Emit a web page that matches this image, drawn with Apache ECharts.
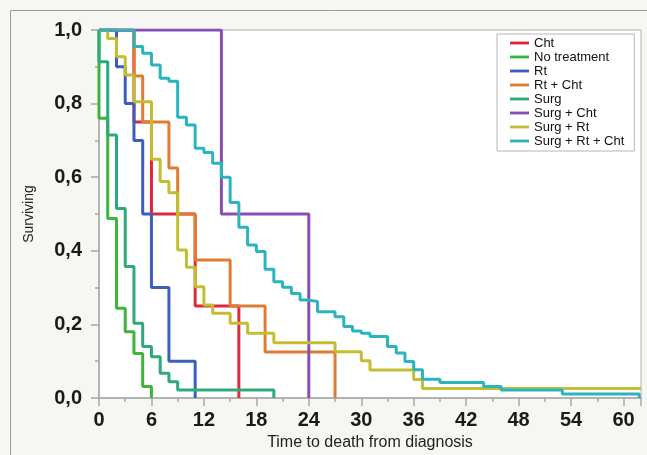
<!DOCTYPE html>
<html>
<head>
<meta charset="utf-8">
<script src="https://cdn.jsdelivr.net/npm/echarts@6/dist/echarts.min.js"></script>
<style>
html,body{margin:0;padding:0;background:#f6f6f3;}
#chart{width:647px;height:455px;}
</style>
</head>
<body>
<div id="chart"></div>
<script>
// Series names (legend order)
const seriesNames = ['Cht', 'No treatment', 'Rt', 'Rt + Cht', 'Surg', 'Surg + Cht', 'Surg + Rt', 'Surg + Rt + Cht'];
const seriesColors = ['#e0283c', '#3db53b', '#3a5fbf', '#de7c34', '#2ea97a', '#8a4db6', '#c3bd33', '#2bb4be'];

// Kaplan-Meier steps: time of event (months) and survival after it
const chtT = [0, 4, 6, 11, 16];
const chtS = [1, 0.75, 0.5, 0.25, 0];

const noTreatT = [0, 0, 1, 2, 3, 4, 5, 6];
const noTreatS = [1, 0.76, 0.488, 0.244, 0.18, 0.121, 0.031, 0];

const rtT = [0, 2, 3, 4, 5, 6, 8, 11];
const rtS = [1, 0.9, 0.8, 0.7, 0.5, 0.3, 0.1, 0];

const rtChtT = [0, 4, 5, 8, 9, 11, 15, 19, 27];
const rtChtS = [1, 0.875, 0.75, 0.625, 0.5, 0.375, 0.25, 0.125, 0];

const surgT = [0, 0, 1, 2, 3, 4, 5, 6, 7, 8, 9, 20];
const surgS = [1, 0.914, 0.715, 0.515, 0.357, 0.203, 0.14, 0.112, 0.067, 0.044, 0.022, 0];

const surgChtT = [0, 14, 24];
const surgChtS = [1, 0.5, 0];

const surgRtT = [0, 1, 2, 3, 4, 6, 7, 8, 9, 10, 11, 12, 13, 15, 17, 20, 27, 30, 31, 36, 37, 62];
const surgRtS = [1, 0.977, 0.927, 0.878, 0.805, 0.649, 0.588, 0.558, 0.402, 0.355, 0.302, 0.253, 0.23, 0.203, 0.176, 0.15, 0.126, 0.101, 0.076, 0.05, 0.026, 0.026];

const surgRtChtT = [0, 4, 5, 6, 7, 8, 9, 10, 11, 12, 13, 14, 15, 16, 17, 18, 19, 20, 21, 22, 23, 24, 25, 27, 28, 29, 30, 31, 33, 34, 35, 36, 37, 39, 44, 46, 53, 61.8];
const surgRtChtS = [1, 0.955, 0.937, 0.905, 0.869, 0.861, 0.763, 0.742, 0.679, 0.667, 0.638, 0.6, 0.531, 0.464, 0.416, 0.398, 0.35, 0.316, 0.301, 0.284, 0.266, 0.262, 0.2345, 0.221, 0.194, 0.182, 0.176, 0.167, 0.14, 0.122, 0.099, 0.077, 0.051, 0.042, 0.031, 0.022, 0.011, 0];

const yTickLabels = ['0,0', '0,2', '0,4', '0,6', '0,8', '1,0'];
const xTickLabels = ['0', '6', '12', '18', '24', '30', '36', '42', '48', '54', '60'];

const allT = [chtT, noTreatT, rtT, rtChtT, surgT, surgChtT, surgRtT, surgRtChtT];
const allS = [chtS, noTreatS, rtS, rtChtS, surgS, surgChtS, surgRtS, surgRtChtS];

const FONT = 'Liberation Sans, Arial, sans-serif';

const series = seriesNames.map((name, i) => ({
  name: name,
  type: 'line',
  step: 'end',
  showSymbol: false,
  symbol: 'none',
  silent: true,
  color: seriesColors[i],
  lineStyle: { width: 3, color: seriesColors[i] },
  data: allT[i].map((t, k) => [t, allS[i][k]])
}));

const chart = echarts.init(document.getElementById('chart'), null, { renderer: 'canvas' });
chart.setOption({
  animation: false,
  backgroundColor: '#f6f6f3',
  graphic: [{
    type: 'rect',
    shape: { x: 10.5, y: 10.5, width: 700, height: 500 },
    style: { fill: 'none', stroke: '#9a9a9a', lineWidth: 1 },
    z: -1
  }],
  grid: {
    left: 99, right: 6, top: 30, bottom: 57,
    outerBoundsMode: 'none',
    containLabel: false,
    show: true, backgroundColor: '#ffffff', borderColor: '#b0b0b0', borderWidth: 1
  },
  legend: {
    data: seriesNames,
    orient: 'vertical',
    left: 497, top: 34,
    padding: [2, 10, 3, 13],
    backgroundColor: '#ffffff',
    borderColor: '#b5b5b5',
    borderWidth: 1,
    icon: 'path://M0,0H20V3H0Z',
    itemWidth: 19,
    itemHeight: 3,
    itemGap: 0,
    textStyle: { fontFamily: FONT, fontSize: 13, color: '#111', lineHeight: 14, height: 14 }
  },
  xAxis: {
    type: 'value',
    min: 0, max: 62, interval: 6,
    name: 'Time to death from diagnosis',
    nameLocation: 'middle',
    nameGap: 37,
    nameTextStyle: { fontFamily: FONT, fontSize: 16, color: '#222' },
    axisLine: { show: true, lineStyle: { color: '#a8a8a8', width: 1.5 } },
    axisTick: { show: true, length: 8, lineStyle: { color: '#a8a8a8', width: 1.5 } },
    minorTick: { show: true, splitNumber: 2, length: 4, lineStyle: { color: '#a8a8a8', width: 1.5 } },
    splitLine: { show: false },
    axisLabel: {
      margin: 12,
      fontFamily: FONT, fontSize: 20, fontWeight: 'bold', color: '#1a1a1a',
      formatter: v => { const i = Math.round(v / 6); return xTickLabels[i] !== undefined ? xTickLabels[i] : ''; }
    }
  },
  yAxis: {
    type: 'value',
    min: 0, max: 1, interval: 0.2,
    name: 'Surviving',
    nameLocation: 'middle',
    nameGap: 63,
    nameTextStyle: { fontFamily: FONT, fontSize: 14, color: '#222' },
    axisLine: { show: true, lineStyle: { color: '#a8a8a8', width: 1.5 } },
    axisTick: { show: true, length: 8, lineStyle: { color: '#a8a8a8', width: 1.5 } },
    minorTick: { show: true, splitNumber: 2, length: 4, lineStyle: { color: '#a8a8a8', width: 1.5 } },
    splitLine: { show: false },
    axisLabel: {
      margin: 17,
      fontFamily: FONT, fontSize: 20, fontWeight: 'bold', color: '#1a1a1a',
      formatter: v => yTickLabels[Math.round(v * 5)]
    }
  },
  series: series
});
</script>
</body>
</html>
